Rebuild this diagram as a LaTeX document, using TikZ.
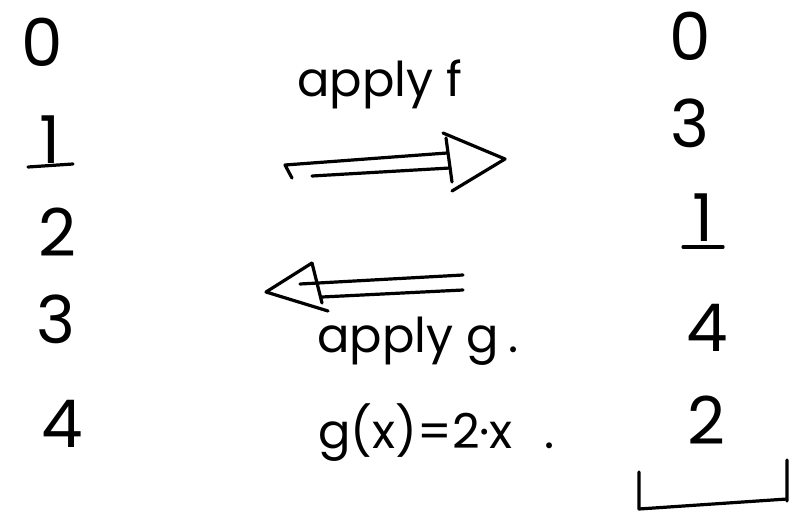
\documentclass[tikz,border=0pt]{standalone}
\usepackage{fontspec}
\setmainfont{Poppins}
\begin{document}
\begin{tikzpicture}[x=0.5pt, y=-0.5pt, line join=round, line cap=round,
	pen/.style={line width=1.6pt},
	digit/.style={font=\fontsize{33}{36}\selectfont, inner sep=0pt},
	word/.style={font=\fontsize{24}{28}\selectfont, inner sep=0pt, anchor=base west}]
	\useasboundingbox (0,0) rectangle (801,518);
	% left column
	\node[digit] (l0) at (42,42) {0};
	\node[digit] (l1) at (50,140) {1};
	\node[digit] (l2) at (57,232) {2};
	\node[digit] (l3) at (56,319) {3};
	\node[digit] (l4) at (62,424) {4};
	\draw[pen] (28,167) -- (73,164);
	% right column
	\node[digit] (r0) at (690,36) {0};
	\node[digit] (r3) at (690,123) {3};
	\node[digit] (r1) at (703,218) {1};
	\node[digit] (r4) at (707,328) {4};
	\node[digit] (r2) at (706,420) {2};
	\draw[pen] (683,247) -- (723,247);
	\draw[pen] (639,472) -- (639,509) -- (787,499) (787,460) -- (787,501);
	% labels
	\node[word] (applyf) at (297,97) {apply f};
	\node[word] (applyg) at (317,352) {apply g\hspace{5pt}.};
	\node[word] (gdef) at (318,448) {g(x)=2·x\hspace{16pt}.};
	% arrow f
	\coordinate (fa) at (285,165); \coordinate (fb) at (447,153);
	\coordinate (fc) at (312,176); \coordinate (fd) at (450,168);
	\coordinate (ftop) at (443,133); \coordinate (ftip) at (505,159); \coordinate (fbot) at (452,191);
	\draw[pen] (292,178) -- (fa) -- (fb) (fc) -- (fd);
	\draw[pen] (ftop) -- (ftip) -- (fbot) (446,138) -- (452,182);
	% arrow g
	\coordinate (ga) at (463,275); \coordinate (gb) at (300,284);
	\coordinate (gc) at (463,290); \coordinate (gd) at (322,297);
	\coordinate (gtop) at (312,263); \coordinate (gtip) at (266,292); \coordinate (gbot) at (328,311);
	\draw[pen] (ga) -- (gb) (gc) -- (gd);
	\draw[pen] (gtop) -- (gtip) -- (gbot) (gtop) -- (322,303);
\end{tikzpicture}
\end{document}
